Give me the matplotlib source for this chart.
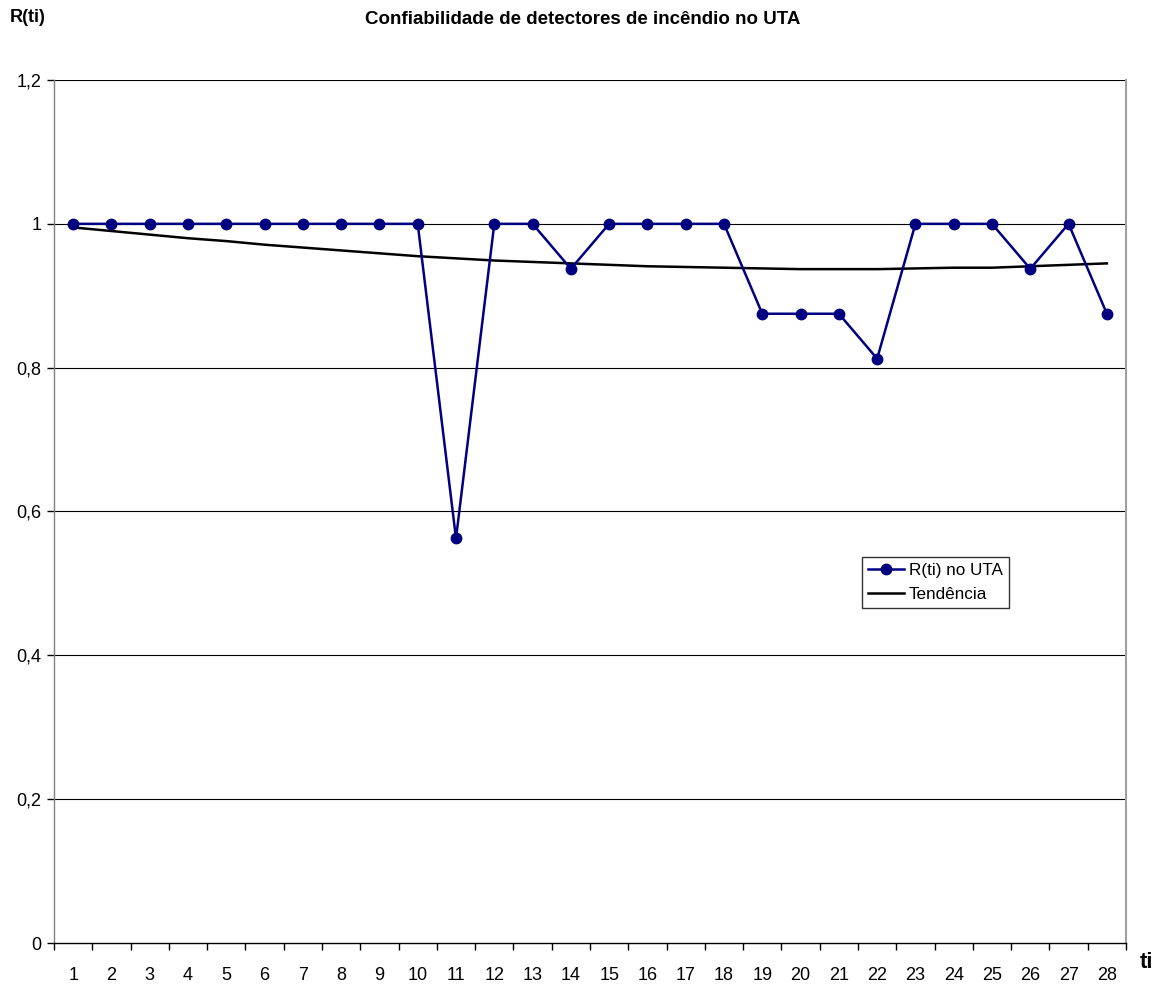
import numpy as np
import matplotlib
matplotlib.use("Agg")
import matplotlib.pyplot as plt
from matplotlib.ticker import FixedLocator, FuncFormatter

plt.rcParams['font.family'] = ['Liberation Sans', 'DejaVu Sans']

ti = list(range(1, 29))
r_uta = [1, 1, 1, 1, 1, 1, 1, 1, 1, 1,
         0.5625, 1, 1, 0.9375, 1, 1, 1, 1,
         0.875, 0.875, 0.875, 0.8125, 1, 1, 1, 0.9375, 1, 0.875]
# Trend line values
tendencia = [0.995, 0.990, 0.985, 0.980, 0.976, 0.971, 0.967, 0.963, 0.959, 0.955,
             0.952, 0.949, 0.947, 0.945, 0.943, 0.941, 0.940, 0.939, 0.938, 0.937,
             0.937, 0.937, 0.938, 0.939, 0.939, 0.941, 0.943, 0.945]
title = "Confiabilidade de detectores de incêndio no UTA"
yticks = [0, 0.2, 0.4, 0.6, 0.8, 1.0, 1.2]

fig = plt.figure(figsize=(11.65, 9.84), dpi=100)
ax = fig.add_axes([54/1165, 1-943/984, (1126-54)/1165, (943-80)/984])

for y in yticks[1:]:
    ax.axhline(y, color='black', lw=0.8, zorder=1)

navy = '#000080'
ax.plot(ti, r_uta, color=navy, lw=1.8, marker='o', ms=7.5, label='R(ti) no UTA', zorder=3)
ax.plot(ti, tendencia, color='black', lw=1.8, label='Tendência', zorder=2)

ax.set_xlim(0.5, 28.5)
ax.set_ylim(0, 1.2)
ax.set_yticks(yticks)
ax.yaxis.set_major_formatter(FuncFormatter(lambda v, p: ('%g' % v).replace('.', ',')))
ax.set_xticks(ti)
ax.set_xticklabels([str(t) for t in ti])
ax.xaxis.set_minor_locator(FixedLocator(np.arange(0.5, 29, 1)))
ax.tick_params(axis='x', which='major', length=0, pad=17, labelsize=13)
ax.tick_params(axis='x', which='minor', length=5, width=1, color='black')
ax.tick_params(axis='y', length=5, width=1, labelsize=13, pad=4)

ax.spines['top'].set_visible(False)
ax.spines['right'].set_color('#a0a0a0')
ax.spines['right'].set_linewidth(1.5)
ax.spines['left'].set_color('#808080')
ax.spines['left'].set_linewidth(1)
ax.spines['bottom'].set_color('black')
ax.spines['bottom'].set_linewidth(1)

fig.text(583/1165, 1-20/984, title, ha='center', va='center', fontsize=13.5, fontweight='bold')
fig.text(28/1165, 1-18/984, 'R(ti)', ha='center', va='center', fontsize=13, fontweight='bold')
fig.text(1147/1165, 1-962/984, 'ti', ha='center', va='center', fontsize=16, fontweight='bold')

leg = ax.legend(loc='upper left', bbox_to_anchor=((862-54)/1072, (943-557)/863),
                frameon=True, fancybox=False, edgecolor='black', fontsize=12.3,
                handlelength=2.1, borderpad=0.35, labelspacing=0.55, handletextpad=0.3,
                borderaxespad=0)
leg.get_frame().set_linewidth(1)

fig.savefig('out.png', dpi=100, facecolor='white')
